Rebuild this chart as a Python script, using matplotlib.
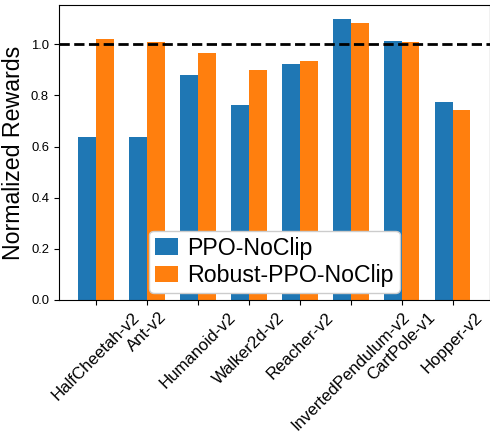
import numpy as np
from matplotlib import pyplot as plt

plt.rcParams['font.family'] = ['Liberation Sans', 'DejaVu Sans']

envs = ["HalfCheetah-v2", "Ant-v2", "Humanoid-v2", "Walker2d-v2",
        "Reacher-v2", "InvertedPendulum-v2", "CartPole-v1", "Hopper-v2"]
ppo_noclip = [0.639, 0.639, 0.882, 0.761, 0.925, 1.098, 1.012, 0.776]
robust_ppo_noclip = [1.020, 1.008, 0.965, 0.898, 0.933, 1.082, 1.008, 0.745]

fig = plt.figure(figsize=(4.9, 4.32), dpi=100)
ax = fig.add_axes([0.120, 0.3056, 0.880, 0.6822])

x = np.arange(len(envs))
w = 0.35
ax.bar(x - w/2, ppo_noclip, w, color="#1f77b4", label="PPO-NoClip")
ax.bar(x + w/2, robust_ppo_noclip, w, color="#ff7f0e", label="Robust-PPO-NoClip")
ax.axhline(1.0, color="k", linestyle="--", linewidth=2)

ax.set_xticks(x)
ax.set_xticklabels(envs, rotation=45, fontsize=12.1)
ax.tick_params(axis="y", labelsize=9.4)
ax.set_ylabel("Normalized Rewards", fontsize=16.7)
ax.legend(loc="lower center", fontsize=16.7, handlelength=1.0, handletextpad=0.4,
          labelspacing=0.2, borderpad=0.25, borderaxespad=0.3, framealpha=1)

fig.savefig("out.png", dpi=100)
